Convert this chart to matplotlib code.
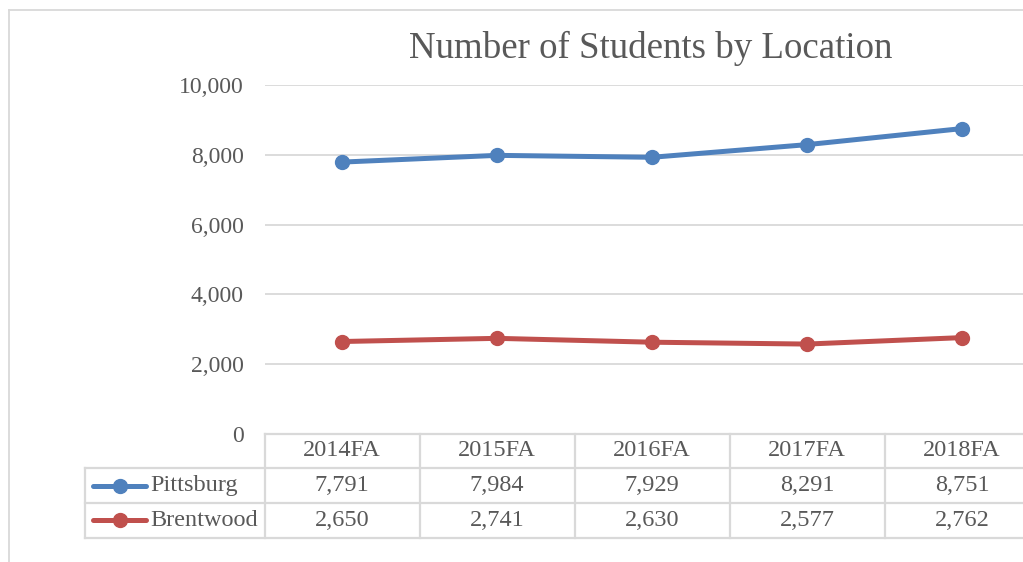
import matplotlib
matplotlib.use("Agg")
import matplotlib.pyplot as plt
from matplotlib.lines import Line2D
from matplotlib.ticker import FuncFormatter

categories = ["2014FA", "2015FA", "2016FA", "2017FA", "2018FA"]
pittsburg = [7791, 7984, 7929, 8291, 8751]
brentwood = [2650, 2741, 2630, 2577, 2762]
series_names = ["Pittsburg", "Brentwood"]
colors = ["#4F81BD", "#C0504D"]
title = "Number of Students by Location"

W, H = 1023, 562
plt.rcParams['font.family'] = ['Liberation Serif', 'DejaVu Serif']
TXT = "#595959"
GRID = "#D9D9D9"

fig = plt.figure(figsize=(W / 100, H / 100), dpi=100)

def fx(px):
    return px / W

def fy(py):
    return 1 - py / H

ax_l, ax_r, ax_t, ax_b = 264.5, 1039.5, 85, 434
ax = fig.add_axes([fx(ax_l), fy(ax_b), fx(ax_r - ax_l), (ax_b - ax_t) / H])

x = list(range(len(categories)))
for vals, c in zip([pittsburg, brentwood], colors):
    ax.plot(x, vals, color=c, lw=3.6, marker='o', markersize=10,
            solid_capstyle='round', zorder=3, clip_on=False)

ax.set_xlim(-0.5, len(categories) - 0.5)
ax.set_ylim(0, 10000)
ax.set_yticks(range(0, 10001, 2000))
ax.yaxis.set_major_formatter(FuncFormatter(lambda v, p: f"{int(v):,}"))
ax.tick_params(axis='y', length=0, pad=15, labelsize=17, labelcolor=TXT)
ax.tick_params(axis='x', length=0, labelbottom=False)
ax.grid(axis='y', color=GRID, lw=1.3)
ax.set_axisbelow(True)
for s in ax.spines.values():
    s.set_visible(False)

# Title
fig.text(fx(651), fy(48), title, ha='center', va='center', fontsize=26.6, color=TXT)

# Outer chart frame (partially visible)
fig.add_artist(Line2D([fx(8.5), fx(W + 5)], [fy(9.5), fy(9.5)], transform=fig.transFigure, color=GRID, lw=1.3))
fig.add_artist(Line2D([fx(8.5), fx(8.5)], [fy(9.5), fy(H + 5)], transform=fig.transFigure, color=GRID, lw=1.3))

# Data table
col_w = (ax_r - ax_l) / len(categories)
row_tops = [434, 468, 503, 537.5]
lbl_left = 85
tlw = 1.6
TFS = 17.5

def hline(y, x0, x1):
    fig.add_artist(Line2D([fx(x0), fx(x1)], [fy(y), fy(y)], transform=fig.transFigure,
                          color=GRID, lw=tlw, clip_on=False))

def vline(xp, y0, y1):
    fig.add_artist(Line2D([fx(xp), fx(xp)], [fy(y0), fy(y1)], transform=fig.transFigure,
                          color=GRID, lw=tlw, clip_on=False))

hline(row_tops[0], ax_l, ax_r)
for yv in row_tops[1:]:
    hline(yv, lbl_left, ax_r)
vline(lbl_left, row_tops[1], row_tops[3])
for i in range(len(categories) + 1):
    vline(ax_l + i * col_w, row_tops[0], row_tops[3])

for i, cat in enumerate(categories):
    cx = ax_l + (i + 0.5) * col_w
    fig.text(fx(cx), fy((row_tops[0] + row_tops[1]) / 2), cat, ha='center', va='center',
             fontsize=TFS, color=TXT)

for r, (name, vals, c) in enumerate(zip(series_names, [pittsburg, brentwood], colors)):
    cy = (row_tops[r + 1] + row_tops[r + 2]) / 2
    fig.add_artist(Line2D([fx(93), fx(146)], [fy(cy), fy(cy)], transform=fig.transFigure,
                          color=c, lw=3.6, solid_capstyle='round'))
    fig.add_artist(Line2D([fx(119.5)], [fy(cy)], transform=fig.transFigure, color=c,
                          marker='o', markersize=10, lw=0))
    fig.text(fx(150), fy(cy), name, ha='left', va='center', fontsize=TFS, color=TXT)
    for i, v in enumerate(vals):
        cx = ax_l + (i + 0.5) * col_w
        fig.text(fx(cx), fy(cy), f"{v:,}", ha='center', va='center', fontsize=TFS, color=TXT)

fig.savefig("out.png", dpi=100, facecolor='white')
